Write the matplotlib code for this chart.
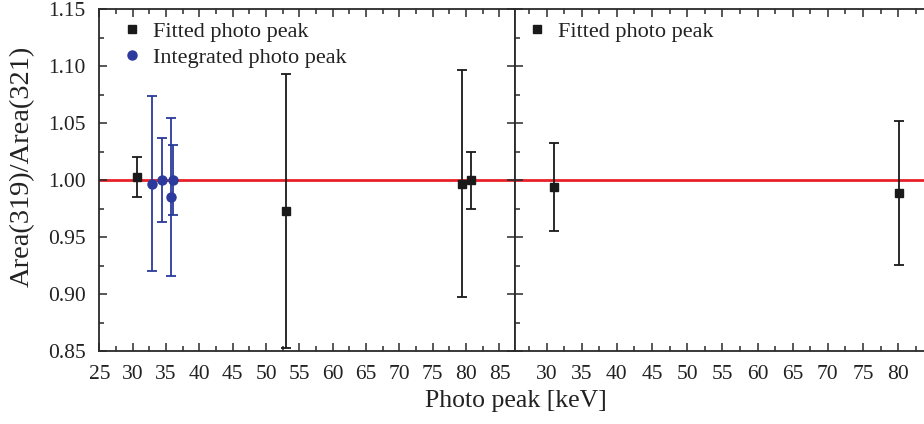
import matplotlib
matplotlib.use("Agg")
import matplotlib.pyplot as plt
from matplotlib.lines import Line2D
from matplotlib.ticker import MultipleLocator

plt.rcParams['font.family'] = ['Liberation Serif', 'DejaVu Serif']

# Left panel: fitted photo peaks
fit_x = [30.6, 53.0, 79.4, 80.8]
fit_y = [1.003, 0.973, 0.997, 1.000]
fit_err = [0.0175, 0.120, 0.100, 0.025]

# Left panel: integrated photo peaks
int_x = [32.95, 34.45, 35.7, 36.1]
int_y = [0.997, 1.000, 0.985, 1.000]
int_err = [0.077, 0.037, 0.0695, 0.0305]

# Right panel: fitted photo peaks
fit2_x = [31.0, 80.1]
fit2_y = [0.994, 0.9887]
fit2_err = [0.0388, 0.063]

BLACK = '#1a1a1a'
BLUE = '#2b3a9c'
RED = '#e8202a'
TEXT = '#222222'

W, H = 924, 424
fig = plt.figure(figsize=(W / 100, H / 100), dpi=100)

x0, xm, x1 = 99.3, 514.5, 924.0
ytop, ybot = 9.3, 351.0
ax1 = fig.add_axes([x0 / W, 1 - ybot / H, (xm - x0) / W, (ybot - ytop) / H])
ax2 = fig.add_axes([xm / W, 1 - ybot / H, (x1 - xm) / W, (ybot - ytop) / H])

eb_kw = dict(linestyle='none', capsize=3.5, elinewidth=1.3, capthick=1.3)

ax1.axhline(1.0, color=RED, lw=2, zorder=1)
ax1.errorbar(fit_x, fit_y, yerr=fit_err, marker='s', ms=5.5, color=BLACK,
             zorder=3, **eb_kw)
ax1.errorbar(int_x, int_y, yerr=int_err, marker='o', ms=6.5, color=BLUE,
             zorder=3, **eb_kw)

ax2.axhline(1.0, color=RED, lw=2, zorder=1)
ax2.errorbar(fit2_x, fit2_y, yerr=fit2_err, marker='s', ms=5.5, color=BLACK,
             zorder=3, **eb_kw)

h_fit = Line2D([], [], ls='none', marker='s', ms=5.5, color=BLACK)
h_int = Line2D([], [], ls='none', marker='o', ms=6.5, color=BLUE)

ax1.set_xlim(25, 87.25)
ax2.set_xlim(25.45, 83.67)
for ax in (ax1, ax2):
    ax.set_ylim(0.85, 1.15)
    ax.xaxis.set_major_locator(MultipleLocator(5))
    ax.xaxis.set_minor_locator(MultipleLocator(2.5))
    ax.yaxis.set_major_locator(MultipleLocator(0.05))
    ax.yaxis.set_minor_locator(MultipleLocator(0.025))
    for sp in ax.spines.values():
        sp.set_color('#2a2a2a')
        sp.set_linewidth(1.3)
    ax.tick_params(which='both', direction='in', top=True, colors='#2a2a2a',
                   labelcolor=TEXT, labelsize=15.5, pad=10, width=1.1)
    ax.tick_params(which='major', length=6)
    ax.tick_params(which='minor', length=3.5)

leg_kw = dict(loc='upper left', frameon=False, fontsize=16, handletextpad=0.45,
              borderaxespad=0, labelspacing=0.25, handlelength=1.0,
              labelcolor=TEXT)
ax1.legend([h_fit, h_int], ['Fitted photo peak', 'Integrated photo peak'],
           bbox_to_anchor=(13 / (xm - x0), 1 - 3 / (ybot - ytop)), **leg_kw)
ax2.legend([h_fit], ['Fitted photo peak'],
           bbox_to_anchor=(2 / (x1 - xm), 1 - 3 / (ybot - ytop)), **leg_kw)

ax1.tick_params(axis='y', right=True)
ax1.yaxis.set_major_formatter(plt.FuncFormatter(lambda v, p: f'{v:.2f}'))
ax2.tick_params(axis='y', left=True, right=False, labelleft=False)
ax2.spines['right'].set_visible(False)

fig.text(22 / W, 1 - 166 / H, 'Area(319)/Area(321)', rotation=90,
         ha='center', va='center', fontsize=20.5, color=TEXT)
fig.text(516 / W, 1 - 401 / H, 'Photo peak [keV]', ha='center', va='center',
         fontsize=18.5, color=TEXT)

fig.savefig('out.png', dpi=100)
